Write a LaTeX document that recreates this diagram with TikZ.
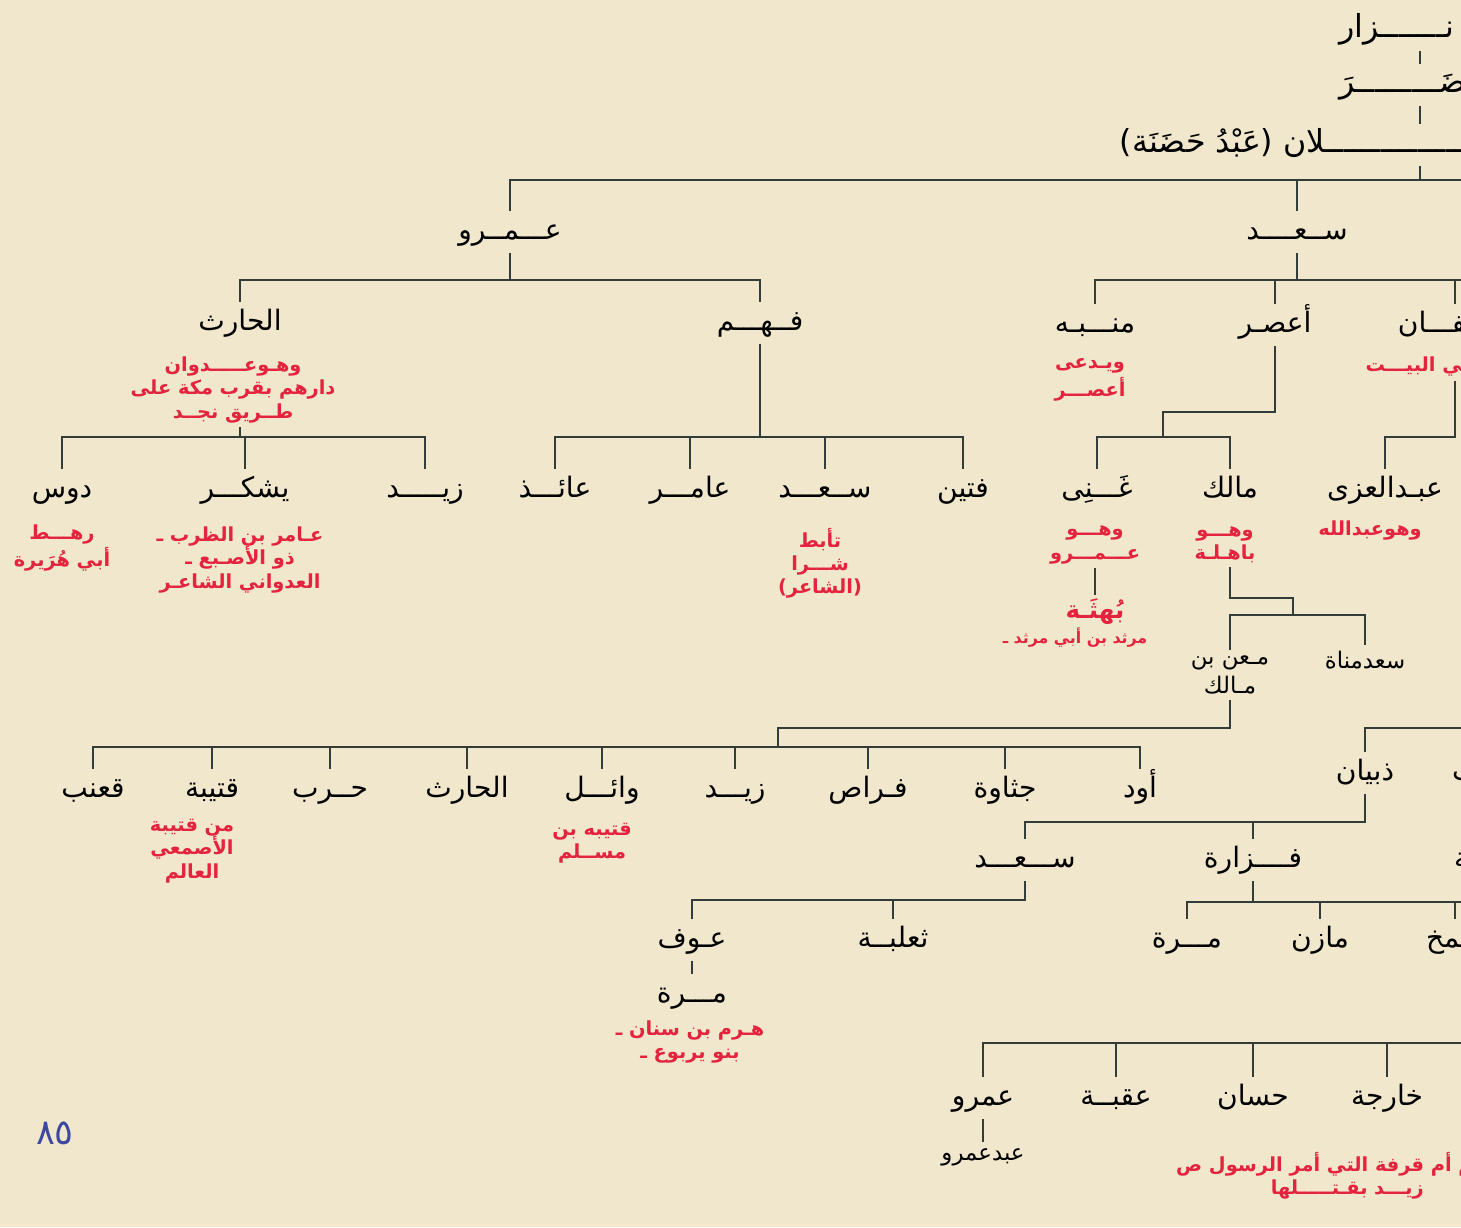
\documentclass[tikz,border=0pt]{standalone}
\usepackage{fontspec}
\newfontfamily\arabicfont[Script=Arabic]{DejaVu Sans}
\TeXXeTstate=1
\definecolor{parchment}{RGB}{241,231,204}
\definecolor{treeline}{RGB}{50,60,56}
\definecolor{notered}{RGB}{228,36,62}
\definecolor{inkblue}{RGB}{62,72,160}
\newcommand{\rtltext}[1]{\beginR #1\endR}
\tikzset{
  person/.style={font=\arabicfont\fontsize{8}{9}\selectfont, text height=6.5pt, text depth=2pt, inner sep=1.5pt},
  bigperson/.style={person, font=\arabicfont\fontsize{9}{10}\selectfont},
  smallperson/.style={font=\arabicfont\fontsize{6.5}{8}\selectfont, align=center, inner sep=1.5pt},
  remark/.style={font=\arabicfont\bfseries\fontsize{5.5}{6.6}\selectfont, text=notered, align=center, inner sep=1pt},
  branch/.style={draw=treeline, line width=0.6pt},
}
\begin{document}
\begin{tikzpicture}[x=0.01cm,y=-0.01cm]
  \fill[parchment] (0,0) rectangle (1461,1227);
  \useasboundingbox (0,0) rectangle (1461,1227);

  % top of the line, cut by the page edge
  \coordinate (spine) at (1420,0);
  \node[bigperson,anchor=west] (nizar) at (1333,30) {\rtltext{نـــــــزار}};
  \node[bigperson,anchor=west] (mudar) at (1333,85) {\rtltext{مُضَـــــــــرَ}};
  \node[bigperson,anchor=west] (qays) at (1114,145) {\rtltext{قيس عيـــــــــــــــلان (عَبْدُ حَضَنَة)}};

  % first branching
  \node[person] (amr) at (510,232) {\rtltext{عـــمــرو}};
  \node[person] (saad) at (1297,232) {\rtltext{ســعــــد}};

  % sons of amr
  \node[person] (harith) at (240,323) {\rtltext{الحارث}};
  \node[person] (fahm) at (760,323) {\rtltext{فــهـــم}};
  \node[remark] (n-harith) at (233,390) {\rtltext{وهـوعـــــدوان}\\\rtltext{دارهم بقرب مكة على}\\\rtltext{طــريق نجــد}};

  \node[person] (daws) at (62,490) {\rtltext{دوس}};
  \node[person] (yashkur) at (245,490) {\rtltext{يشكـــر}};
  \node[person] (zaid1) at (425,490) {\rtltext{زيـــــد}};
  \node[remark] (n-daws) at (62,548) {\rtltext{رهـــط}\\\rtltext{أبي هُرَيرة}};
  \node[remark] (n-yashkur) at (240,560) {\rtltext{عـامر بن الظرب ـ}\\\rtltext{ذو الأصـبع ـ}\\\rtltext{العدواني الشاعـر}};

  \node[person] (aidh) at (555,490) {\rtltext{عائـــذ}};
  \node[person] (amir) at (690,490) {\rtltext{عامـــر}};
  \node[person] (saad2) at (825,490) {\rtltext{ســعـــد}};
  \node[person] (fatin) at (963,490) {\rtltext{فتين}};
  \node[remark] (n-saad2) at (820,563) {\rtltext{تأبط}\\\rtltext{شـــرا}\\\rtltext{(الشاعر)}};

  % sons of saad
  \node[person] (munabbih) at (1095,325) {\rtltext{منـــبـه}};
  \node[person] (asur) at (1275,325) {\rtltext{أعصـر}};
  \node[person] (ghatafan) at (1455,325) {\rtltext{غطـفـــان}};
  \node[remark] (n-munabbih) at (1090,380) {\rtltext{ويـدعى}\\\rtltext{أعصـــر}};
  \node[remark] (n-ghatafan) at (1420,367) {\rtltext{في البيـــت}};

  \node[person] (ghani) at (1097,490) {\rtltext{غَـــنِى}};
  \node[person] (malik) at (1230,490) {\rtltext{مالك}};
  \node[person] (abduluzza) at (1385,490) {\rtltext{عبـدالعزى}};
  \node[remark] (n-ghani) at (1095,545) {\rtltext{وهـــو}\\\rtltext{عـــمـــرو}};
  \node[remark] (n-malik) at (1225,545) {\rtltext{وهـــو}\\\rtltext{باهـلـة}};
  \node[remark] (n-abduluzza) at (1370,531) {\rtltext{وهوعبدالله}};
  \node[remark,font=\arabicfont\bfseries\fontsize{7}{8}\selectfont] (buhtha) at (1095,612) {\rtltext{بُهثَـة}};
  \node[remark,font=\arabicfont\bfseries\fontsize{4.5}{5}\selectfont] (mirthad) at (1075,638) {\rtltext{مرثد بن أبي مرثد ـ}};

  \node[smallperson] (maan) at (1230,675) {\rtltext{مـعن بن}\\\rtltext{مـالك}};
  \node[smallperson] (saadmanat) at (1365,660) {\rtltext{سعدمناة}};

  % sons of maan
  \node[person] (qanab) at (93,790) {\rtltext{قعنب}};
  \node[person] (qutayba) at (212,790) {\rtltext{قتيبة}};
  \node[person] (harb) at (330,790) {\rtltext{حــرب}};
  \node[person] (harith2) at (467,790) {\rtltext{الحارث}};
  \node[person] (wail) at (602,790) {\rtltext{وائـــل}};
  \node[person] (zaid2) at (735,790) {\rtltext{زيـــد}};
  \node[person] (firas) at (868,790) {\rtltext{فـراص}};
  \node[person] (juthawa) at (1005,790) {\rtltext{جثاوة}};
  \node[person] (awd) at (1140,790) {\rtltext{أود}};
  \node[remark] (n-qutayba) at (192,851) {\rtltext{من قتيبة}\\\rtltext{الأصمعي}\\\rtltext{العالم}};
  \node[remark] (n-wail) at (592,843) {\rtltext{قتيبه بن}\\\rtltext{مســلم}};

  % dhubyan and his line
  \node[person] (dhubyan) at (1365,773) {\rtltext{ذبيان}};
  \node[person,anchor=west] (abs) at (1446,773) {\rtltext{ـب}};
  \node[person] (saad3) at (1025,860) {\rtltext{ســـعـــد}};
  \node[person] (fazara) at (1253,860) {\rtltext{فــــزارة}};
  \node[person,anchor=west] (third) at (1448,860) {\rtltext{ـة}};

  \node[person] (awf) at (692,940) {\rtltext{عـوف}};
  \node[person] (thalaba) at (893,940) {\rtltext{ثعلبــة}};
  \node[person] (murra1) at (692,995) {\rtltext{مـــرة}};
  \node[remark] (n-murra) at (690,1042) {\rtltext{هـرم بن سنان ـ}\\\rtltext{بنو يربوع ـ}};

  \node[person] (murra2) at (1187,940) {\rtltext{مـــرة}};
  \node[person] (mazin) at (1320,940) {\rtltext{مازن}};
  \node[person] (shamkh) at (1455,940) {\rtltext{شمخ}};

  \node[person] (amr2) at (983,1098) {\rtltext{عمرو}};
  \node[person] (uqba) at (1116,1098) {\rtltext{عقبــة}};
  \node[person] (hassan) at (1253,1098) {\rtltext{حسان}};
  \node[person] (kharija) at (1387,1098) {\rtltext{خارجة}};
  \node[smallperson] (abdamr) at (983,1157) {\rtltext{عبدعمرو}};
  \node[remark,anchor=west] (n-kharija) at (1172,1176) {\rtltext{ومنهم أم قرفة التي أمر الرسول ص}\\\rtltext{زيـــد بقـتـــــلها}};

  \node[text=inkblue,font=\arabicfont\fontsize{10}{11}\selectfont] (page) at (55,1133) {٨٥};

  % bars and elbows
  \coordinate (edge1) at (1470,180);
  \coordinate (b-amr) at (510,280);
  \coordinate (b-harith) at (240,437);
  \coordinate (b-fahm) at (760,437);
  \coordinate (b-saad) at (1297,280);
  \coordinate (edge2) at (1470,280);
  \coordinate (k-asur) at (1275,412);
  \coordinate (b-asur) at (1163,437);
  \coordinate (b-ghatafan) at (1455,437);
  \coordinate (k-malik) at (1230,598);
  \coordinate (b-malik) at (1293,615);
  \coordinate (k-maan) at (1230,728);
  \coordinate (b-maan) at (778,747);
  \coordinate (edge3) at (1470,728);
  \coordinate (b-dhubyan) at (1365,822);
  \coordinate (b-saad3) at (1025,900);
  \coordinate (b-fazara) at (1253,902);
  \coordinate (edge4) at (1470,902);
  \coordinate (edge5) at (1470,1043);

  \draw[branch] (nizar.south -| spine) -- (mudar.north -| spine);
  \draw[branch] (mudar.south -| spine) -- (qays.north -| spine);
  \draw[branch] (qays.south -| spine) -- (edge1 -| spine);
  \draw[branch] (amr.north) |- (edge1);
  \draw[branch] (saad.north) -- (saad.north |- edge1);

  \draw[branch] (amr.south) -- (b-amr);
  \draw[branch] (harith.north) |- (b-amr) -| (fahm.north);

  \draw[branch] (n-harith.south -| b-harith) -- (b-harith);
  \draw[branch] (daws.north) |- (b-harith) -| (zaid1.north);
  \draw[branch] (yashkur.north) -- (yashkur.north |- b-harith);

  \draw[branch] (fahm.south) -- (b-fahm);
  \draw[branch] (aidh.north) |- (b-fahm) -| (fatin.north);
  \foreach \kid in {amir,saad2}
    \draw[branch] (\kid.north) -- (\kid.north |- b-fahm);

  \draw[branch] (saad.south) -- (b-saad);
  \draw[branch] (munabbih.north) |- (edge2);
  \foreach \kid in {asur,ghatafan}
    \draw[branch] (\kid.north) -- (\kid.north |- edge2);

  \draw[branch] (asur.south) -- (k-asur) -| (b-asur);
  \draw[branch] (ghani.north) |- (b-asur) -| (malik.north);
  \draw[branch] (n-ghani.south) -- (buhtha.north);
  \draw[branch] (n-ghatafan.south -| ghatafan) -- (b-ghatafan) -| (abduluzza.north);

  \draw[branch] (n-malik.south -| malik) -- (k-malik) -| (b-malik);
  \draw[branch] (maan.north) |- (b-malik) -| (saadmanat.north);

  \draw[branch] (maan.south) -- (k-maan) -| (b-maan);
  \draw[branch] (qanab.north) |- (b-maan) -| (awd.north);
  \foreach \kid in {qutayba,harb,harith2,wail,zaid2,firas,juthawa}
    \draw[branch] (\kid.north) -- (\kid.north |- b-maan);

  \draw[branch] (dhubyan.north) |- (edge3);
  \draw[branch] (dhubyan.south) -- (b-dhubyan) -| (saad3.north);
  \draw[branch] (fazara.north) -- (fazara.north |- b-dhubyan);

  \draw[branch] (saad3.south) -- (b-saad3) -| (awf.north);
  \draw[branch] (thalaba.north) -- (thalaba.north |- b-saad3);
  \draw[branch] (awf.south) -- (murra1.north);

  \draw[branch] (fazara.south) -- (b-fazara);
  \draw[branch] (murra2.north) |- (edge4);
  \foreach \kid in {mazin,shamkh}
    \draw[branch] (\kid.north) -- (\kid.north |- edge4);

  \draw[branch] (amr2.north) |- (edge5);
  \foreach \kid in {uqba,hassan,kharija}
    \draw[branch] (\kid.north) -- (\kid.north |- edge5);
  \draw[branch] (amr2.south) -- (abdamr.north);
\end{tikzpicture}
\end{document}
